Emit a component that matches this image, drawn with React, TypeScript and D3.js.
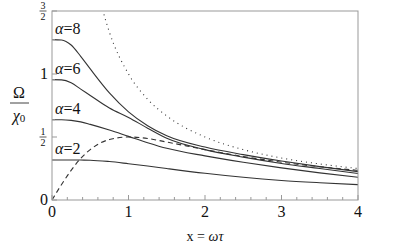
import React from "react";
import * as d3 from "d3";

// values
const xValues = [0, 0.125, 0.25, 0.375, 0.5, 0.75, 1, 1.25, 1.5, 2, 2.5, 3, 3.5, 4];
const alpha2 = [0.318, 0.318, 0.318, 0.317, 0.316, 0.305, 0.288, 0.27, 0.25, 0.212, 0.18, 0.155, 0.137, 0.122];
const alpha4 = [0.637, 0.637, 0.632, 0.62, 0.6, 0.555, 0.505, 0.455, 0.41, 0.35, 0.3, 0.255, 0.215, 0.18];
const alpha6 = [0.955, 0.953, 0.93, 0.88, 0.83, 0.73, 0.655, 0.57, 0.49, 0.4, 0.34, 0.29, 0.25, 0.21];
const alpha8 = [1.273, 1.27, 1.23, 1.14, 1.04, 0.85, 0.7, 0.59, 0.51, 0.42, 0.36, 0.31, 0.265, 0.225];
const dashedValues = [0, 0.123, 0.235, 0.33, 0.4, 0.48, 0.5, 0.488, 0.46, 0.4, 0.345, 0.3, 0.264, 0.235];
const dottedX = [0.6, 0.667, 0.75, 1, 1.25, 1.5, 2, 2.5, 3, 3.5, 4];
const dottedValues = [1.667, 1.5, 1.333, 1, 0.8, 0.667, 0.5, 0.4, 0.333, 0.286, 0.25];

const alphaNames = ["2", "4", "6", "8"];
const alphaSeries = [alpha2, alpha4, alpha6, alpha8];

const xTicks = [0, 1, 2, 3, 4];
const yTicks = [0, 0.5, 1, 1.5];
const yTickLabels = [["0"], ["1", "2"], ["1"], ["3", "2"]];
const yMinorTicks = [0.318, 0.637, 0.955, 1.273];

const W = 415;
const H = 247;
const margin = { left: 52, top: 11, right: 57, bottom: 47 };

const serif = "Liberation Serif, Times New Roman, Times, DejaVu Serif, serif";
const ink = "#333";
const frame = "#999";
const txt = { fontFamily: serif };

const App = () => {
  const x = d3.scaleLinear().domain([0, 4]).range([margin.left, W - margin.right]);
  const y = d3.scaleLinear().domain([0, 1.5]).range([H - margin.bottom, margin.top]);

  const line = d3
    .line<[number, number]>()
    .x((d) => x(d[0]))
    .y((d) => y(d[1]))
    .curve(d3.curveMonotoneX);

  const xMinor = d3.range(0, 4.001, 0.2);
  const [x0, x1] = x.range();
  const [y0, y1] = y.range();

  return (
    <svg width={W} height={H} style={{ position: "absolute", left: 0, top: 0 }}>
      <defs>
        <clipPath id="plot">
          <rect x={x0} y={y1} width={x1 - x0} height={y0 - y1} />
        </clipPath>
      </defs>
      <rect x={0} y={0} width={W} height={H} fill="#fff" />

      <g clipPath="url(#plot)" fill="none" stroke={ink} strokeWidth={1.1}>
        {alphaSeries.map((s, i) => (
          <path key={i} d={line(xValues.map((v, j) => [v, s[j]]))!} />
        ))}
        <path d={line(xValues.map((v, j) => [v, dashedValues[j]]))!} strokeDasharray="5,3.5" />
        <path d={line(dottedX.map((v, j) => [v, dottedValues[j]]))!} strokeDasharray="1,4" />
      </g>

      {/* frame */}
      <rect x={x0} y={y1} width={x1 - x0} height={y0 - y1} fill="none" stroke={frame} strokeWidth={1} />

      {/* x ticks */}
      {xMinor.map((t, i) => {
        const major = Math.abs(t - Math.round(t)) < 1e-6;
        return (
          <line key={i} x1={x(t)} x2={x(t)} y1={y0} y2={y0 - (major ? 5 : 3)} stroke={frame} />
        );
      })}
      {xTicks.map((t) => (
        <text key={t} x={x(t)} y={y0 + 17} textAnchor="middle" style={txt} fontSize={16} fill="#111">
          {t}
        </text>
      ))}

      {/* y ticks */}
      {yTicks.map((t) => (
        <line key={t} x1={x0} x2={x0 + 5} y1={y(t)} y2={y(t)} stroke={frame} />
      ))}
      {yMinorTicks.map((t) => (
        <line key={t} x1={x0} x2={x0 + 3} y1={y(t)} y2={y(t)} stroke={frame} />
      ))}
      {yTicks.map((t, i) => {
        const lab = yTickLabels[i];
        if (lab.length === 1) {
          return (
            <text key={t} x={x0 - 4} y={y(t) + 5} textAnchor="end" style={txt} fontSize={16} fill="#111">
              {lab[0]}
            </text>
          );
        }
        const cx = x0 - 9;
        return (
          <g key={t} style={txt} fontSize={10} fill="#111" textAnchor="middle">
            <text x={cx} y={y(t) - 2}>{lab[0]}</text>
            <line x1={cx - 3.5} x2={cx + 3.5} y1={y(t)} y2={y(t)} stroke="#111" strokeWidth={0.7} />
            <text x={cx} y={y(t) + 8.5}>{lab[1]}</text>
          </g>
        );
      })}

      {/* curve labels */}
      {alphaSeries.map((s, i) => (
        <text key={i} x={x(0) + 3} y={y(s[0]) - 6} style={txt} fontSize={16} fill="#111">
          <tspan fontStyle="italic">α</tspan>={alphaNames[i]}
        </text>
      ))}

      {/* axis titles */}
      <g style={txt} fill="#111" textAnchor="middle">
        <text x={19} y={98} fontSize={16}>Ω</text>
        <line x1={10} x2={29} y1={103} y2={103} stroke="#111" strokeWidth={0.8} />
        <text x={19} y={121} fontSize={16}>
          <tspan fontStyle="italic">χ</tspan>
          <tspan fontSize={11} dy={1}>0</tspan>
        </text>
        <text x={(x0 + x1) / 2} y={241} fontSize={14}>
          x = <tspan fontStyle="italic">ωτ</tspan>
        </text>
      </g>
    </svg>
  );
};

export default App;
